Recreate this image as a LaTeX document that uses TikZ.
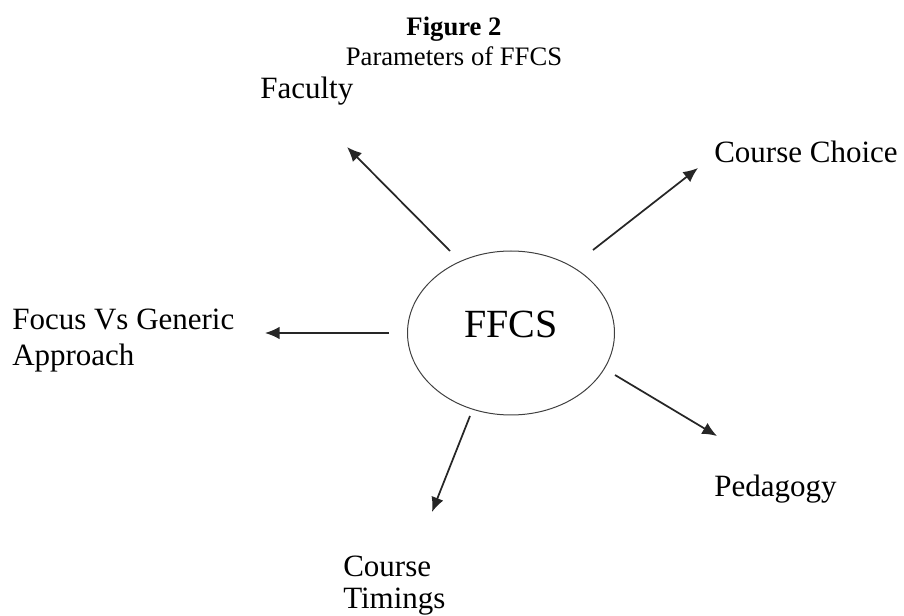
\documentclass[tikz,border=0pt]{standalone}
\usepackage{fontspec}
\setmainfont{Liberation Serif}
\usetikzlibrary{shapes.geometric,arrows.meta}
\begin{document}
\begin{tikzpicture}[x=0.75pt,y=-0.75pt,
  lbl/.style={inner sep=0pt, font=\fontsize{23.25}{27}\selectfont},
  arr/.style={line width=1.3pt, draw=black!85, -{Latex[length=11pt,width=9.5pt]}}]
\useasboundingbox (0,0) rectangle (904,616);
% title
\node[anchor=north, align=center, inner sep=0pt, font=\fontsize{20}{22.5}\selectfont] (title) at (454,17) {\textbf{Figure 2}\\Parameters of FFCS};
% centre
\node[ellipse, draw=black!75, line width=0.75pt, inner sep=0pt,
      minimum width=155.25pt, minimum height=123pt,
      text height=21pt, text depth=13.5pt,
      font=\fontsize{30}{36}\selectfont] (e) at (511,333) {FFCS};
% labels
\node[lbl, anchor=base west] (fac) at (260,99) {Faculty};
\node[lbl, anchor=base west] (cc) at (714,163) {Course Choice};
\node[lbl, anchor=north west, align=left] (foc) at (12,309) {Focus Vs Generic\\Approach};
\node[lbl, anchor=base west] (ped) at (714,497) {Pedagogy};
\node[lbl, anchor=north west, align=left, font=\fontsize{23.25}{23.5}\selectfont] (ct) at (343,556) {Course\\Timings};
% arrow ends
\coordinate (s1) at (450,251); \coordinate (t1) at (347,147);
\coordinate (s2) at (593,250); \coordinate (t2) at (698,168);
\coordinate (s3) at (389,333); \coordinate (t3) at (265,333);
\coordinate (s4) at (615,375); \coordinate (t4) at (717,436);
\coordinate (s5) at (470,416); \coordinate (t5) at (432,512);
\draw[arr] (s1) -- (t1);
\draw[arr] (s2) -- (t2);
\draw[arr] (s3) -- (t3);
\draw[arr] (s4) -- (t4);
\draw[arr] (s5) -- (t5);
\end{tikzpicture}
\end{document}
